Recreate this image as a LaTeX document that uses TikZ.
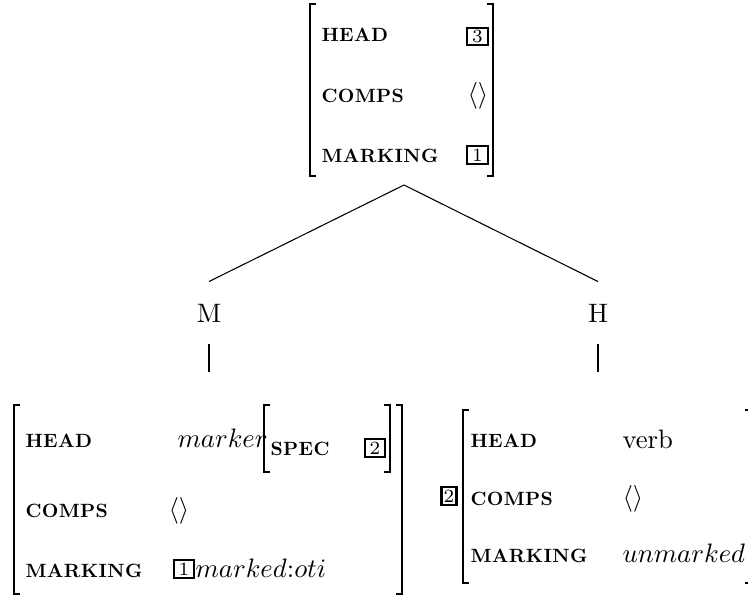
\documentclass[tikz,border=0pt]{standalone}
\usepackage{fontspec}
\usepackage{tikz}
\usetikzlibrary{calc}

\newfontfamily\featfam[LetterSpace=2]{lmroman10-bold.otf}
\newcommand\featfont{\fontsize{7.2}{8}\featfam}

\tikzset{
  brak/.style={line width=0.8pt},
  feat/.style={anchor=base west, inner sep=0pt, font=\featfont},
  val/.style={anchor=base west, inner sep=0pt},
  tagbox/.style={draw, line width=0.8pt, inner sep=0pt, minimum width=7.8pt, minimum height=6.6pt, font=\scriptsize},
  cat/.style={inner sep=0pt, minimum height=23.2pt},
  branch/.style={line width=0.4pt},
  stem/.style={line width=0.8pt}
}

% left and right bracket: x, top y, bottom y
\newcommand\lbrak[3]{\draw[brak] ({#1+6},#2) -- (#1,#2) -- (#1,#3) -- ({#1+6},#3);}
\newcommand\rbrak[3]{\draw[brak] ({#1-6},#2) -- (#1,#2) -- (#1,#3) -- ({#1-6},#3);}

\begin{document}
\begin{tikzpicture}[x=0.375pt, y=-0.375pt]
	\useasboundingbox (0,0) rectangle (748,595);

	% mother
	\lbrak{310}{4}{176}
	\rbrak{493}{4}{176}
	\node[feat] (mhead) at (321,42) {HEAD};
	\node[feat] (mcomps) at (321,102) {COMPS};
	\node[feat] (mmark) at (321,162) {MARKING};
	\node[tagbox] (mtagthree) at (477.5,36.5) {3};
	\node[val] (mcompsval) at (467,102) {$\langle\rangle$};
	\node[tagbox] (mtagone) at (477.5,155) {1};
	\coordinate (mother) at (404,185);

	% daughters
	\node[cat] (m) at (209,313) {M};
	\node[cat] (h) at (598,313) {H};
	\coordinate (mfoot) at (209,372);
	\coordinate (hfoot) at (598,372);

	\draw[branch] (mother) -- (m.north);
	\draw[branch] (mother) -- (h.north);
	\draw[stem] (m.south) -- (mfoot);
	\draw[stem] (h.south) -- (hfoot);

	% marker daughter
	\lbrak{14}{405}{594}
	\rbrak{402}{405}{594}
	\node[feat] (lhead) at (25,447) {HEAD};
	\node[feat] (lcomps) at (25,517) {COMPS};
	\node[feat] (lmark) at (25,577) {MARKING};
	\node[val] (lheadval) at (177,447) {$marker$};
	\lbrak{264}{405}{472}
	\rbrak{390}{405}{472}
	\node[feat] (lspec) at (270,455) {SPEC};
	\node[tagbox] (ltagtwo) at (375,448) {2};
	\node[val] (lcompsval) at (168,517) {$\langle\rangle$};
	\node[tagbox] (ltagone) at (184,569) {1};
	\node[val] (lmarkval) at (195,577) {$marked$:$oti$};

	% head daughter
	\node[tagbox, minimum width=5.6pt] (rtagtwo) at (449,496) {2};
	\lbrak{463}{410}{583}
	\rbrak{751}{410}{583}
	\node[feat] (rhead) at (470,447) {HEAD};
	\node[feat] (rcomps) at (470,505) {COMPS};
	\node[feat] (rmark) at (470,562) {MARKING};
	\node[val] (rheadval) at (622,448) {verb};
	\node[val] (rcompsval) at (622,505) {$\langle\rangle$};
	\node[val] (rmarkval) at (622,562) {$unmarked$};
\end{tikzpicture}
\end{document}
